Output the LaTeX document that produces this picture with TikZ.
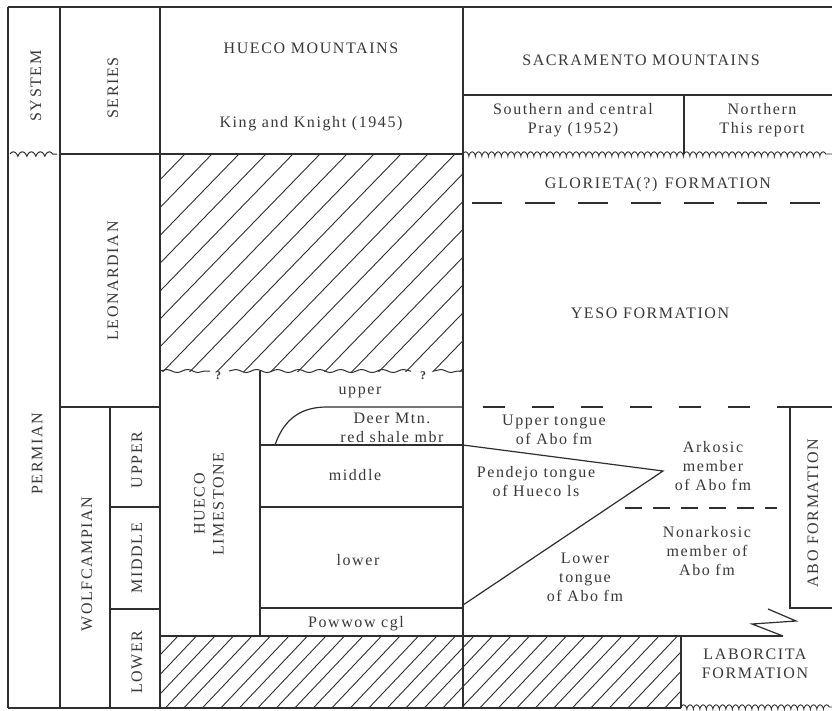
\documentclass[tikz,border=0pt]{standalone}
\usepackage{fontspec}
\setmainfont{Liberation Serif}[LetterSpace=10]
\usetikzlibrary{decorations.pathmorphing}
\begin{document}
\begin{tikzpicture}[x=1pt,y=-1pt,
  ln/.style={draw=black!82, line width=1.2pt},
  hatchln/.style={draw=black!82, line width=0.9pt},
  txt/.style={text=black!78, font=\fontsize{16}{19}\selectfont, align=center, inner sep=0pt},
  qm/.style={text=black!78, font=\fontsize{12}{12}\selectfont\bfseries, inner sep=0pt},
  curly/.style={draw=black!82, line width=0.9pt, decorate, decoration={coil, amplitude=2.2pt, segment length=6.5pt, aspect=0.45}},
  wavy/.style={draw=black!82, line width=1.0pt, decorate, decoration={snake, amplitude=1.5pt, segment length=21pt}},
  dashA/.style={dash pattern=on 30pt off 23pt},
  dashB/.style={dash pattern=on 22pt off 27pt},
  dashC/.style={dash pattern=on 17pt off 11pt}]
\useasboundingbox (0,0) rectangle (832,710);
\fill[white] (0,0) rectangle (832,710);

% hatching
\begin{scope}
  \clip (160,154) rectangle (463,371);
  \foreach \a in {158,185,...,820} \draw[hatchln] (\a,154) -- ++(-320,330);
\end{scope}
\begin{scope}
  \clip (160,636) rectangle (681,708);
  \foreach \a in {159.5,178,...,780} \draw[hatchln] (\a,636) -- ++(-90,95);
\end{scope}

% frame and main columns
\draw[ln] (8,7) -- (832,7);
\draw[ln] (8,7) -- (8,708);
\draw[ln] (60,7) -- (60,708);
\draw[ln] (160,7) -- (160,708);
\draw[ln] (463,7) -- (463,708);
\draw[ln] (8,708) -- (681,708);
\draw[ln] (463,95) -- (832,95);
\draw[ln] (684,95) -- (684,154);
\draw[ln] (60,154) -- (463,154);
\draw[curly] (463,154) -- (832,154);
\draw[draw=black!82, line width=1pt, decorate, decoration={coil, amplitude=2.2pt, segment length=9pt, aspect=0.5}] (10,154) -- (57,154);

% series subdivisions
\draw[ln] (60,407) -- (160,407);
\draw[ln] (110,407) -- (110,708);
\draw[ln] (110,507) -- (160,507);
\draw[ln] (110,609) -- (160,609);

% Hueco Mountains column
\draw[wavy] (160,371) -- (210,371);
\draw[wavy] (229,371) -- (411,371);
\draw[wavy] (434,371) -- (463,371);
\draw[ln] (260,371) -- (260,636);
\draw[ln] (275,445) .. controls (285,416) and (304,407) .. (327,407) -- (463,407);
\draw[ln] (260,445) -- (463,445);
\draw[ln] (260,507) -- (463,507);
\draw[ln] (260,608) -- (463,608);
\draw[ln] (160,636) -- (783,636);

% Sacramento Mountains column
\draw[ln, dashA] (472,203) -- (832,203);
\draw[ln, dashB] (483,407) -- (790,407);
\draw[ln] (790,407) -- (832,407);
\draw[ln] (790,407) -- (790,608) -- (832,608);
\draw[ln, dashC] (625,508) -- (777,508);
\draw[ln] (463,445) -- (663,471) -- (463,605);
\draw[ln] (768,609) -- (796,621) -- (752,624) -- (783,636);
\draw[ln] (681,636) -- (681,708);
\draw[curly] (681,707) -- (832,707);

% texts
\node[txt] (hm) at (311,48) {HUECO MOUNTAINS};
\node[txt] (kk) at (311,124) {King and Knight (1945)};
\node[txt] (sm) at (641,60) {SACRAMENTO MOUNTAINS};
\node[txt] (sc) at (573,120) {Southern and central\\Pray (1952)};
\node[txt] (nr) at (762,120) {Northern\\This report};
\node[txt] (gl) at (658,185) {GLORIETA(?) FORMATION};
\node[txt] (ye) at (650,313) {YESO FORMATION};
\node[txt,rotate=90] (sy) at (36,86) {SYSTEM};
\node[txt,rotate=90] (se) at (113,88) {SERIES};
\node[txt,rotate=90] (le) at (113,281) {LEONARDIAN};
\node[txt,rotate=90] (pe) at (37,454) {PERMIAN};
\node[txt,rotate=90] (wo) at (87,564) {WOLFCAMPIAN};
\node[txt,rotate=90] (up) at (137,460) {UPPER};
\node[txt,rotate=90] (mi) at (137,558) {MIDDLE};
\node[txt,rotate=90] (lo) at (137,662) {LOWER};
\node[txt,rotate=90] (hl) at (209,504) {HUECO\\LIMESTONE};
\node[txt] (hu) at (360,392) {upper};
\node[txt] (dm) at (392,428) {Deer Mtn.\\red shale mbr};
\node[txt] (hmid) at (355,475) {middle};
\node[txt] (hlow) at (358,560) {lower};
\node[txt] (pw) at (356,624) {Powwow cgl};
\node[qm] (q1) at (218,376) {?};
\node[qm] (q2) at (423,376) {?};
\node[txt] (ut) at (554,430) {Upper tongue\\of Abo fm};
\node[txt] (pt) at (536,482) {Pendejo tongue\\of Hueco ls};
\node[txt] (ak) at (713,466) {Arkosic\\member\\of Abo fm};
\node[txt] (na) at (707,551) {Nonarkosic\\member of\\Abo fm};
\node[txt] (lt) at (585,577) {Lower\\tongue\\of Abo fm};
\node[txt,rotate=90] (ab) at (813,513) {ABO FORMATION};
\node[txt] (lb) at (755,664) {LABORCITA\\FORMATION};
\end{tikzpicture}
\end{document}
